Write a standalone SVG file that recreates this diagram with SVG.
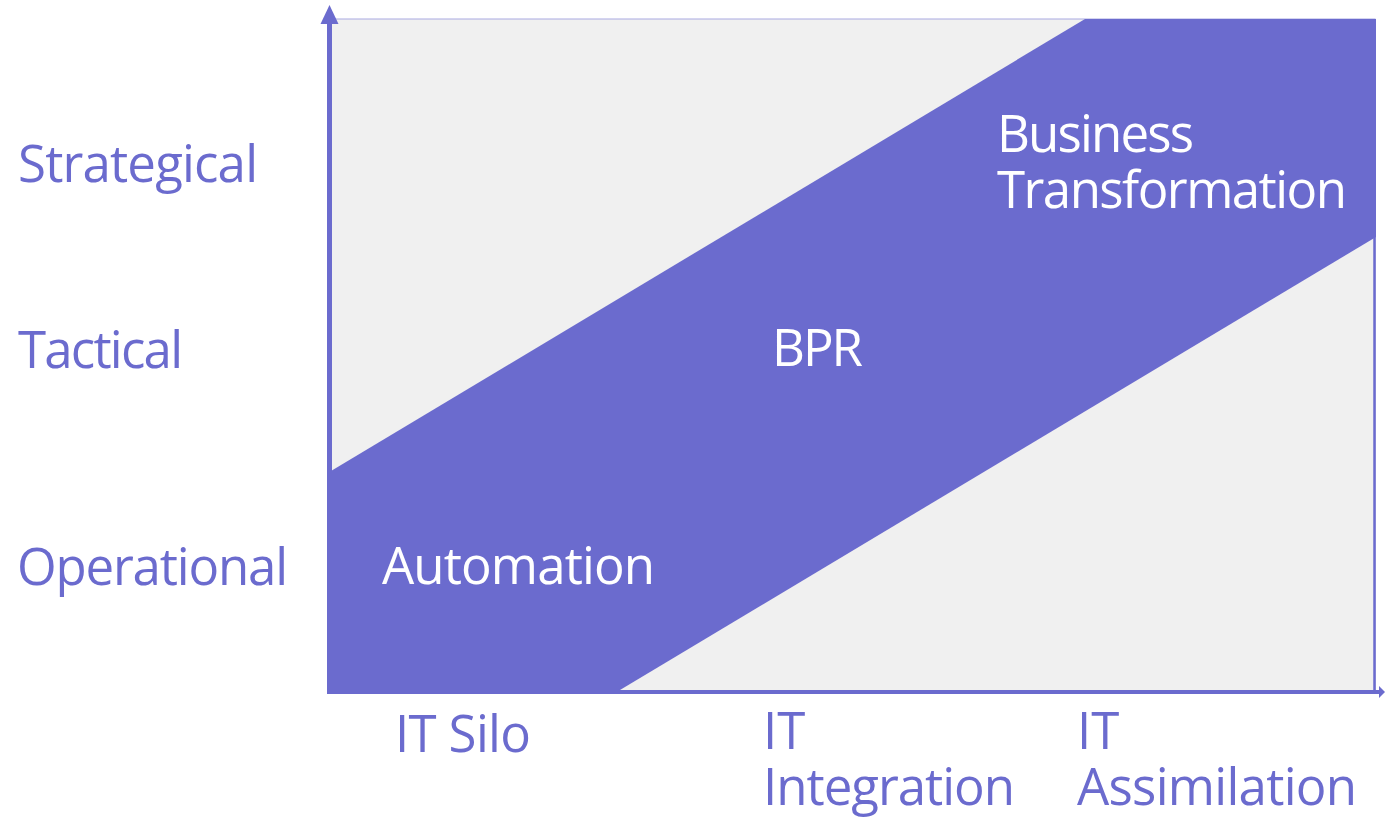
<svg xmlns="http://www.w3.org/2000/svg" width="1385" height="820" viewBox="0 0 1385 820">
<style>
.lbl{font-family:"Open Sans","Noto Sans","Liberation Sans",sans-serif;font-size:51px;font-weight:500;fill:#6B6BCE;font-variant-ligatures:none}
.in{font-family:"Open Sans","Noto Sans","Liberation Sans",sans-serif;font-size:51px;font-weight:500;fill:#FFFFFF;font-variant-ligatures:none}
.ax{stroke:#6B6BCE;fill:none}
</style>
<rect width="1385" height="820" fill="#FFFFFF"/>
<g id="chart-area">
<rect x="331" y="19" width="1044" height="672" fill="#F0F0F0" stroke="#A9A9E2" stroke-width="1"/>
<polygon points="331,471 1085,19 1376,19 1376,237 620,690 331,690" fill="#6B6BCE"/>
</g>
<g id="connectors">
<line class="ax" x1="1374.5" y1="19" x2="1374.5" y2="692" stroke-width="2.5"/>
<line class="ax" x1="329.5" y1="694" x2="329.5" y2="22" stroke-width="5"/>
<polygon points="329.5,5 320.5,24 338.5,24" fill="#6B6BCE"/>
<line class="ax" x1="327" y1="692" x2="1380" y2="692" stroke-width="4"/>
<polygon points="1385,692 1379,686 1379,698" fill="#6B6BCE"/>
</g>
<g id="y-labels">
<text class="lbl" x="18" y="182" textLength="240">Strategical</text>
<text class="lbl" x="18" y="368" textLength="165">Tactical</text>
<text class="lbl" x="17" y="585" textLength="271">Operational</text>
</g>
<g id="band-labels">
<text class="in" x="382" y="584" textLength="273">Automation</text>
<text class="in" x="772" y="366" textLength="91">BPR</text>
<text class="in"><tspan x="997" y="152" textLength="197">Business</tspan><tspan x="997" y="208" textLength="350">Transformation</tspan></text>
</g>
<g id="x-labels">
<text class="lbl" x="395" y="752" textLength="136">IT Silo</text>
<text class="lbl"><tspan x="763" y="749">IT</tspan><tspan x="763" y="805" textLength="252">Integration</tspan></text>
<text class="lbl"><tspan x="1077" y="749">IT</tspan><tspan x="1077" y="805" textLength="280">Assimilation</tspan></text>
</g>
</svg>
